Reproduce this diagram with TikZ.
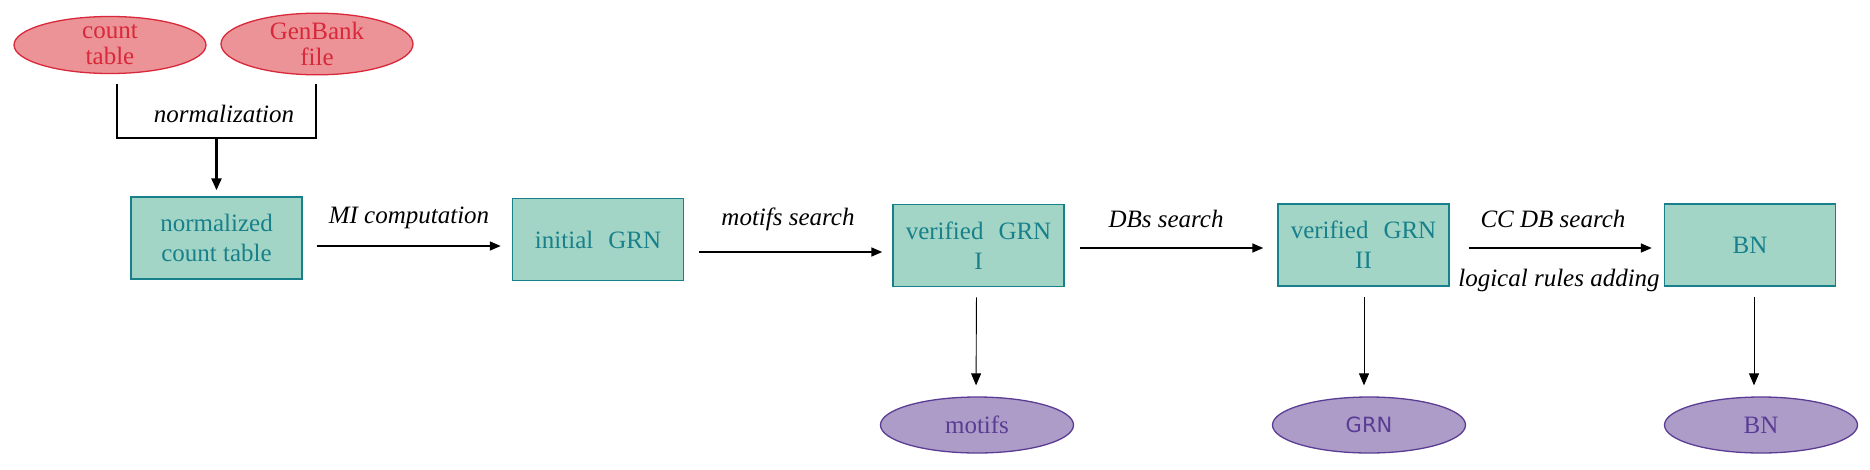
\documentclass[tikz,border=0pt]{standalone}
\usepackage{fontspec}
\setmainfont{Liberation Serif}
\newfontfamily\sansf{DejaVu Sans}
\usetikzlibrary{shapes.geometric,arrows.meta}
\definecolor{boxfill}{HTML}{A3D5C6}
\definecolor{boxline}{HTML}{17808A}
\definecolor{redfill}{HTML}{EB9397}
\definecolor{redline}{HTML}{D8283A}
\definecolor{purfill}{HTML}{AD9CC8}
\definecolor{purline}{HTML}{5B3C94}
\begin{document}
\begin{tikzpicture}[x=1pt,y=-1pt,
  every node/.style={font=\fontsize{25}{30}\selectfont},
  stepbox/.style={draw=boxline,fill=boxfill,line width=1.5pt,minimum width=171pt,minimum height=82pt,inner sep=0pt,text=boxline,align=center},
  redell/.style={ellipse,draw=redline,fill=redfill,line width=1.3pt,minimum width=192pt,minimum height=57pt,inner sep=0pt,text=redline,align=center},
  purell/.style={ellipse,draw=purline,fill=purfill,line width=1.3pt,minimum width=193pt,minimum height=56pt,inner sep=0pt,text=purline,align=center},
  arr/.style={-{Triangle[length=11pt,width=9pt]},line width=1.6pt},
  darr/.style={-{Triangle[length=12pt,width=10pt]},line width=0.9pt},
  lbl/.style={font=\fontsize{25}{30}\selectfont\itshape}]
\useasboundingbox (0,0) rectangle (1870,469);
% inputs
\node[redell] (ct) at (110,45) {count\\[-4pt]table};
\node[redell] (gb) at (317,44) {GenBank\\[-4pt]file};
% boxes
\node[stepbox] (nct) at (216.5,238) {normalized\\count table};
\node[stepbox] (igrn) at (598,239.5) {initial\hspace{0.35em} GRN};
\node[stepbox] (vg1) at (978.5,245.5) {verified\hspace{0.35em} GRN\\I};
\node[stepbox] (vg2) at (1363.5,245) {verified\hspace{0.35em} GRN\\II};
\node[stepbox] (bn) at (1750,245) {BN};
% outputs
\node[purell] (mot) at (977,425) {motifs};
\node[purell] (grn) at (1369,425) {\sansf\fontsize{21}{24}\selectfont GRN};
\node[purell] (bno) at (1761,425) {BN};
% bracket
\coordinate (bl) at (117,84);
\coordinate (br) at (316,84);
\coordinate (bm) at (216.5,138);
\draw[line width=1.6pt] (bl) |- (bm) -| (br);
\draw[-{Triangle[length=12pt,width=10pt]},line width=2.6pt,shorten >=6pt] (bm) -- (nct.north);
\node[lbl] (ln) at (224,114) {normalization};
% horizontal arrows
\draw[arr] ([xshift=14pt,yshift=-8pt]nct.east) -- ([xshift=-11pt,yshift=-6.5pt]igrn.west);
\node[lbl] (l1) at (409,218) {MI computation};
\draw[arr] ([xshift=15pt,yshift=-12.5pt]igrn.east) -- ([xshift=-10pt,yshift=-6.5pt]vg1.west);
\node[lbl] (l2) at (788,219) {motifs search};
\draw[arr] ([xshift=15pt,yshift=-2.5pt]vg1.east) -- ([xshift=-14pt,yshift=-3pt]vg2.west);
\node[lbl] (l3) at (1166,219) {DBs search};
\draw[arr] ([xshift=19pt,yshift=-3pt]vg2.east) -- ([xshift=-12pt,yshift=-3pt]bn.west);
\node[lbl] (l4) at (1553,219) {CC DB search};
\node[lbl] (l5) at (1559,280) {logical rules adding};
% down arrows
\draw[darr,shorten <=10pt,shorten >=11pt] ([xshift=-2pt]vg1.south) -- ([xshift=-1pt]mot.north);
\draw[darr,shorten <=10pt,shorten >=11pt] ([xshift=0.5pt]vg2.south) -- ([xshift=-5pt]grn.north);
\draw[darr,shorten <=10pt,shorten >=11pt] ([xshift=4pt]bn.south) -- ([xshift=-7pt]bno.north);
\end{tikzpicture}
\end{document}
